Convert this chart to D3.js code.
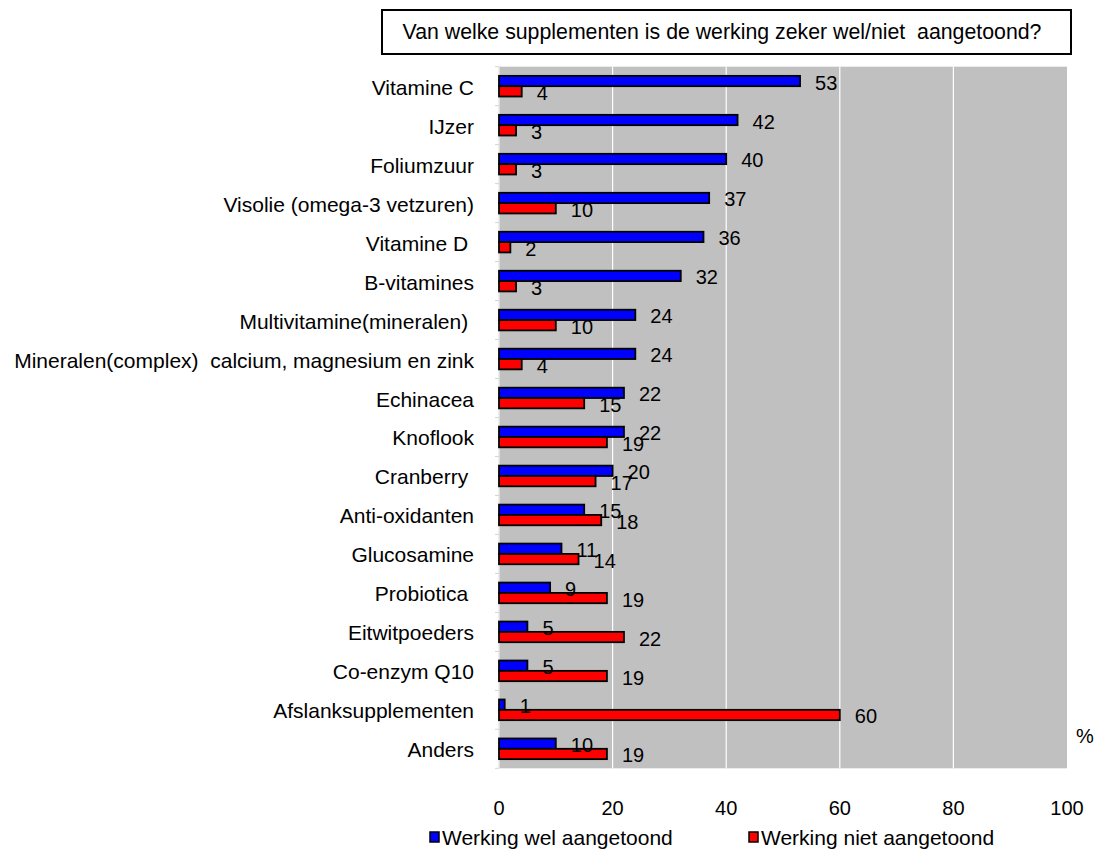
<!DOCTYPE html>
<html>
<head>
<meta charset="utf-8">
<script src="https://cdn.jsdelivr.net/npm/d3@7"></script>
<style>
  html, body { margin: 0; padding: 0; background: #fff; }
  svg text { font-family: "Liberation Sans", Arial, sans-serif; fill: #000; white-space: pre; }
</style>
</head>
<body>
<svg id="chart" width="1099" height="849"></svg>
<script>
// Supplements, top to bottom
const categories = [
  "Vitamine C",
  "IJzer",
  "Foliumzuur",
  "Visolie (omega-3 vetzuren)",
  "Vitamine D ",
  "B-vitamines",
  "Multivitamine(mineralen) ",
  "Mineralen(complex)  calcium, magnesium en zink",
  "Echinacea",
  "Knoflook",
  "Cranberry ",
  "Anti-oxidanten",
  "Glucosamine",
  "Probiotica ",
  "Eitwitpoeders",
  "Co-enzym Q10",
  "Afslanksupplementen",
  "Anders"
];
const seriesNames = ["Werking wel aangetoond", "Werking niet aangetoond"];
const welAangetoond  = [53, 42, 40, 37, 36, 32, 24, 24, 22, 22, 20, 15, 11, 9, 5, 5, 1, 10];
const nietAangetoond = [4, 3, 3, 10, 2, 3, 10, 4, 15, 19, 17, 18, 14, 19, 22, 19, 60, 19];
const xTicks = [0, 20, 40, 60, 80, 100];
const titleText = "Van welke supplementen is de werking zeker wel/niet  aangetoond?";
const colors = ["#0000FF", "#FF0000"];

const svg = d3.select("#chart");
const plot = { left: 499, right: 1067, top: 66.7, bottom: 768.3 };

const x = d3.scaleLinear().domain([0, 100]).range([plot.left, plot.right]);
const y0 = d3.scaleBand().domain(categories).range([plot.top, plot.bottom])
  .paddingInner(0.47).paddingOuter(0.235);
const y1 = d3.scaleBand().domain(seriesNames).range([0, y0.bandwidth()]);

// Title box
const title = svg.append("g");
title.append("rect").attr("x", 382).attr("y", 10).attr("width", 689).attr("height", 44)
  .attr("fill", "#fff").attr("stroke", "#000").attr("stroke-width", 2);
title.append("text").attr("x", 722).attr("y", 32).attr("text-anchor", "middle")
  .attr("dominant-baseline", "central").attr("font-size", 21.3).text(titleText);

// Plot background and vertical gridlines
svg.append("rect").attr("x", plot.left).attr("y", plot.top)
  .attr("width", plot.right - plot.left).attr("height", plot.bottom - plot.top)
  .attr("fill", "#C0C0C0");
svg.append("g").selectAll("line").data(xTicks.filter(d => d > 0 && d < 100)).join("line")
  .attr("x1", d => x(d)).attr("x2", d => x(d))
  .attr("y1", plot.top).attr("y2", plot.bottom)
  .attr("stroke", "#fff").attr("stroke-width", 1.2);

// Category axis line with ticks between the groups
const boundaries = d3.range(categories.length + 1).map(i => plot.top + i * y0.step());
svg.append("line").attr("x1", plot.left).attr("x2", plot.left)
  .attr("y1", plot.top).attr("y2", plot.bottom)
  .attr("stroke", "#e8e8e8").attr("stroke-width", 1.5);
svg.append("g").selectAll("line").data(boundaries).join("line")
  .attr("x1", plot.left - 4).attr("x2", plot.left)
  .attr("y1", d => d).attr("y2", d => d)
  .attr("stroke", "#d4d4d4").attr("stroke-width", 1);

// Category labels
svg.append("g").selectAll("text").data(categories).join("text")
  .attr("x", plot.left - 25)
  .attr("y", d => y0(d) + y0.bandwidth() / 2 + 1)
  .attr("text-anchor", "end").attr("dominant-baseline", "central")
  .attr("font-size", 21)
  .text(d => d);

// Bars
const rows = categories.map((c, i) => ({
  cat: c,
  vals: [
    { s: seriesNames[0], v: welAangetoond[i], c: colors[0] },
    { s: seriesNames[1], v: nietAangetoond[i], c: colors[1] }
  ]
}));

const groups = svg.append("g").selectAll("g").data(rows).join("g")
  .attr("transform", d => `translate(0,${y0(d.cat)})`);

groups.selectAll("rect").data(d => d.vals).join("rect")
  .attr("x", x(0))
  .attr("y", d => y1(d.s))
  .attr("width", d => x(d.v) - x(0))
  .attr("height", y1.bandwidth())
  .attr("fill", d => d.c)
  .attr("stroke", "#000").attr("stroke-width", 1.8);

// Value labels
groups.selectAll("text").data(d => d.vals).join("text")
  .attr("x", d => x(d.v) + 15)
  .attr("y", d => y1(d.s) + y1.bandwidth() / 2 + 1.5)
  .attr("dominant-baseline", "central")
  .attr("font-size", 20)
  .text(d => d.v);

// X tick labels
svg.append("g").selectAll("text").data(xTicks).join("text")
  .attr("x", d => x(d)).attr("y", 808)
  .attr("text-anchor", "middle").attr("dominant-baseline", "central")
  .attr("font-size", 20)
  .text(d => d);

// Unit label
svg.append("text").attr("x", 1076).attr("y", 736)
  .attr("dominant-baseline", "central").attr("font-size", 20).text("%");

// Legend
const legendX = [430, 749];
const legend = svg.append("g").selectAll("g").data(seriesNames).join("g")
  .attr("transform", (d, i) => `translate(${legendX[i]},837)`);
legend.append("rect").attr("x", 0).attr("y", -5).attr("width", 9).attr("height", 10)
  .attr("fill", (d, i) => colors[i]).attr("stroke", "#000").attr("stroke-width", 1.5);
legend.append("text").attr("x", 12).attr("y", 0)
  .attr("dominant-baseline", "central").attr("font-size", 21)
  .text(d => d);
</script>
</body>
</html>
